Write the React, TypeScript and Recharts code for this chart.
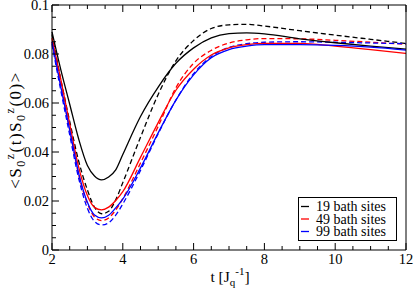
import React from "react";
import { LineChart, Line, XAxis, YAxis } from "recharts";

// time grid, in units of 1/J_q
const t = [2, 2.25, 2.5, 2.75, 3, 3.2, 3.4, 3.6, 3.8, 4, 4.5, 5, 5.5, 6, 6.5, 7, 7.5, 8, 9, 10, 11, 12];

// solid and dashed curves per bath size
const sites19 = [0.089, 0.0735, 0.0595, 0.0455, 0.0345, 0.0302, 0.0286, 0.0298, 0.0327, 0.039, 0.0545, 0.0665, 0.0762, 0.0825, 0.0866, 0.0883, 0.0886, 0.0882, 0.0862, 0.0846, 0.0832, 0.082];
const sites19Dash = [0.088, 0.0695, 0.0525, 0.0365, 0.0245, 0.0175, 0.0148, 0.0158, 0.0205, 0.0275, 0.046, 0.0635, 0.0772, 0.0855, 0.0904, 0.0919, 0.0921, 0.0914, 0.0895, 0.0877, 0.086, 0.0843];
const sites49 = [0.0865, 0.0695, 0.0515, 0.034, 0.0222, 0.0174, 0.0164, 0.0175, 0.0202, 0.0238, 0.0378, 0.052, 0.0652, 0.0738, 0.0796, 0.0825, 0.0838, 0.0843, 0.0843, 0.0832, 0.0818, 0.0802];
const sites49Dash = [0.085, 0.067, 0.049, 0.031, 0.019, 0.0135, 0.012, 0.0131, 0.0163, 0.021, 0.0355, 0.0505, 0.0662, 0.0762, 0.0815, 0.0845, 0.0858, 0.0863, 0.0862, 0.0856, 0.0848, 0.084];
const sites99 = [0.085, 0.0665, 0.049, 0.0315, 0.0195, 0.0143, 0.0131, 0.0142, 0.0172, 0.0208, 0.0335, 0.0478, 0.0612, 0.0715, 0.0785, 0.0818, 0.0832, 0.0838, 0.0838, 0.0835, 0.0828, 0.0816];
const sites99Dash = [0.084, 0.065, 0.047, 0.0295, 0.017, 0.0117, 0.0102, 0.0111, 0.0142, 0.0188, 0.0325, 0.0475, 0.0612, 0.072, 0.079, 0.0827, 0.0842, 0.0848, 0.085, 0.0848, 0.0845, 0.0842];

const legendNames = ["19 bath sites", "49 bath sites", "99 bath sites"];
const colors = ["#000000", "#ff0000", "#0000ff"];

const xTicks = [2, 2.5, 3, 3.5, 4, 4.5, 5, 5.5, 6, 6.5, 7, 7.5, 8, 8.5, 9, 9.5, 10, 10.5, 11, 11.5, 12];
const xLabels = ["2", "4", "6", "8", "10", "12"];
const yTicks = [0, 0.005, 0.01, 0.015, 0.02, 0.025, 0.03, 0.035, 0.04, 0.045, 0.05, 0.055, 0.06, 0.065, 0.07, 0.075, 0.08, 0.085, 0.09, 0.095, 0.1];
const yLabels = ["0", "0.02", "0.04", "0.06", "0.08", "0.1"];

const data = t.map((x, i) => ({
  t: x,
  s19: sites19[i],
  s19d: sites19Dash[i],
  s49: sites49[i],
  s49d: sites49Dash[i],
  s99: sites99[i],
  s99d: sites99Dash[i],
}));

const FONT = "'Liberation Serif', 'Times New Roman', serif";
const MAJOR = 7;
const MINOR = 4;

const isMajorX = (v: number) => xLabels.includes(String(v));
const isMajorY = (v: number) => yLabels.includes(String(v));

const BottomTick = ({ x, y, payload }: any) => {
  const major = isMajorX(payload.value);
  return (
    <g>
      <line x1={x} y1={y} x2={x} y2={y - (major ? MAJOR : MINOR)} stroke="#000" />
      {major && (
        <text x={x} y={y + 14} textAnchor="middle" fontFamily={FONT} fontSize={14.5} fill="#000">
          {payload.value}
        </text>
      )}
    </g>
  );
};

const TopTick = ({ x, y, payload }: any) => {
  const major = isMajorX(payload.value);
  return <line x1={x} y1={y} x2={x} y2={y + (major ? MAJOR : MINOR)} stroke="#000" />;
};

const LeftTick = ({ x, y, payload }: any) => {
  const major = isMajorY(payload.value);
  return (
    <g>
      <line x1={x} y1={y} x2={x + (major ? MAJOR : MINOR)} y2={y} stroke="#000" />
      {major && (
        <text x={x - 3} y={y + 4.5} textAnchor="end" fontFamily={FONT} fontSize={14.5} fill="#000">
          {payload.value}
        </text>
      )}
    </g>
  );
};

const RightTick = ({ x, y, payload }: any) => {
  const major = isMajorY(payload.value);
  return <line x1={x} y1={y} x2={x - (major ? MAJOR : MINOR)} y2={y} stroke="#000" />;
};

const YTitle = () => (
  <text
    x={21}
    y={130}
    transform="rotate(-90, 21, 130)"
    textAnchor="middle"
    fontFamily={FONT}
    fontSize={17}
    letterSpacing={1.5}
    fill="#000"
  >
    {"<S"}
    <tspan fontSize={12} dy={4}>0</tspan>
    <tspan fontSize={12} dy={-11}>z</tspan>
    <tspan dy={7}>(t)S</tspan>
    <tspan fontSize={12} dy={4}>0</tspan>
    <tspan fontSize={12} dy={-11}>z</tspan>
    <tspan dy={7}>{"(0)>"}</tspan>
  </text>
);

const XTitle = () => (
  <text x={230} y={282} textAnchor="middle" fontFamily={FONT} fontSize={15.5} fill="#000">
    t [J
    <tspan fontSize={11} dy={4}>q</tspan>
    <tspan fontSize={11} dy={-11}>-1</tspan>
    <tspan dy={7}>]</tspan>
  </text>
);

const LegendBox = () => (
  <svg
    width={100}
    height={46}
    style={{ position: "absolute", left: 298, top: 197, display: "block" }}
  >
    <rect x={0.5} y={0.5} width={98} height={43} fill="#fff" stroke="#000" />
    {legendNames.map((name, i) => {
      const base = 14 + i * 12.5;
      return (
        <g key={name}>
          <line x1={3} x2={11} y1={base - 4.5} y2={base - 4.5} stroke={colors[i]} strokeWidth={1.3} />
          <text x={18} y={base} fontFamily={FONT} fontSize={14} fill="#000">
            {name}
          </text>
        </g>
      );
    })}
  </svg>
);

const solidKeys = ["s19", "s49", "s99"];
const dashKeys = ["s19d", "s49d", "s99d"];

export default function App() {
  return (
    <div style={{ position: "absolute", left: 0, top: 0, width: 415, height: 292, background: "#fff" }}>
      <LineChart width={415} height={292} data={data} margin={{ top: 4, right: 8, bottom: 0, left: 12 }}>
        <XAxis
          dataKey="t"
          type="number"
          domain={[2, 12]}
          ticks={xTicks}
          interval={0}
          tickSize={0}
          tickMargin={0}
          height={42}
          stroke="#000"
          tick={<BottomTick />}
          label={<XTitle />}
        />
        <XAxis
          xAxisId="top"
          dataKey="t"
          type="number"
          orientation="top"
          domain={[2, 12]}
          ticks={xTicks}
          interval={0}
          tickSize={0}
          tickMargin={0}
          height={1}
          stroke="#000"
          tick={<TopTick />}
        />
        <YAxis
          type="number"
          domain={[0, 0.1]}
          ticks={yTicks}
          interval={0}
          tickSize={0}
          tickMargin={0}
          width={40}
          stroke="#000"
          tick={<LeftTick />}
          label={<YTitle />}
        />
        <YAxis
          yAxisId="right"
          orientation="right"
          type="number"
          domain={[0, 0.1]}
          ticks={yTicks}
          interval={0}
          tickSize={0}
          tickMargin={0}
          width={1}
          stroke="#000"
          tick={<RightTick />}
        />
        {dashKeys.map((k, i) => (
          <Line
            key={k}
            dataKey={k}
            type="monotone"
            stroke={colors[i]}
            strokeWidth={1.3}
            strokeDasharray="5 3"
            dot={false}
            isAnimationActive={false}
          />
        ))}
        {solidKeys.map((k, i) => (
          <Line
            key={k}
            dataKey={k}
            name={legendNames[i]}
            type="monotone"
            stroke={colors[i]}
            strokeWidth={1.3}
            dot={false}
            isAnimationActive={false}
          />
        ))}
      </LineChart>
      <LegendBox />
    </div>
  );
}
